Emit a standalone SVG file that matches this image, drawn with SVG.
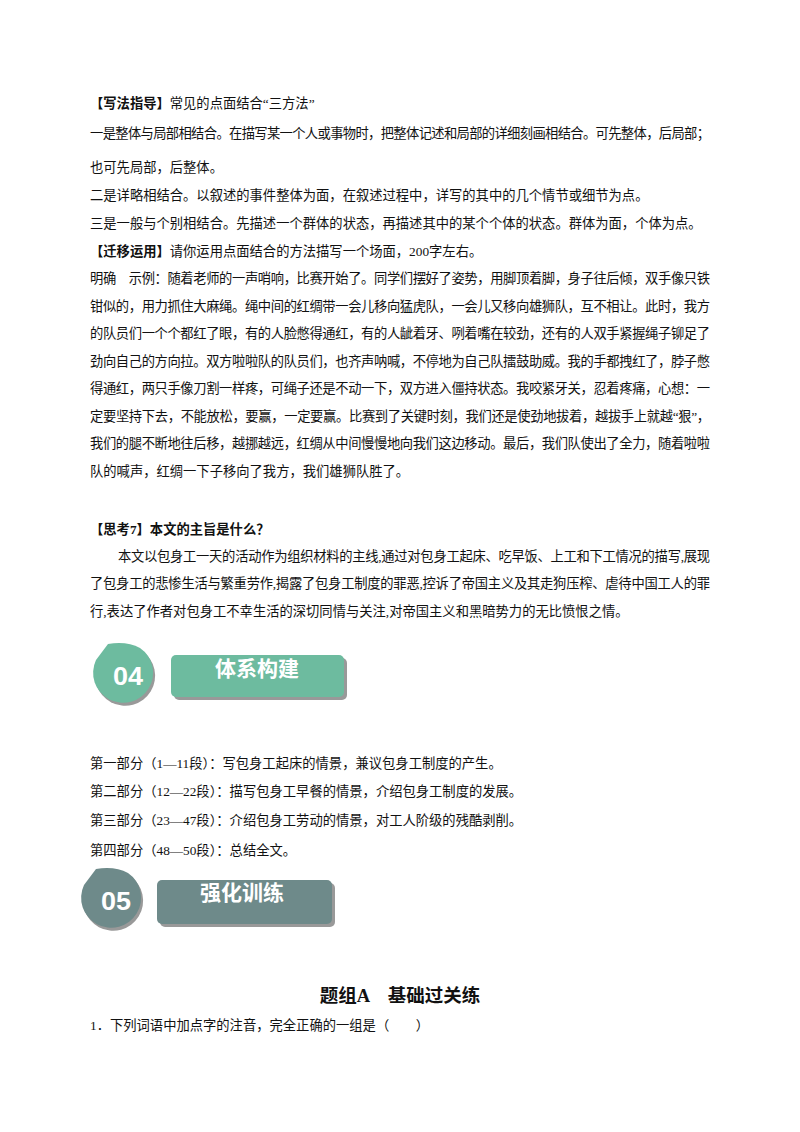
<svg xmlns="http://www.w3.org/2000/svg" width="800" height="1132" viewBox="0 0 800 1132">
<style>
text{font-family:"Liberation Serif","Noto Sans CJK SC",serif;font-size:13.3px;fill:#111}
.b{font-weight:bold}
.h{font-family:"Noto Sans CJK SC",sans-serif;font-weight:bold;font-size:21px;fill:#fff}
.n{font-family:"Liberation Sans","Noto Sans CJK SC",sans-serif;font-weight:bold;font-size:26px;fill:#fff}
</style>
<rect width="800" height="1132" fill="#fff"/>
<g id="text1">
<text x="90" y="108"><tspan class="b">【写法指导】</tspan>常见的点面结合“三方法”</text>
<text x="90" y="138" textLength="620" lengthAdjust="spacing">一是整体与局部相结合。在描写某一个人或事物时，把整体记述和局部的详细刻画相结合。可先整体，后局部；</text>
<text x="90" y="172">也可先局部，后整体。</text>
<text x="90" y="200">二是详略相结合。以叙述的事件整体为面，在叙述过程中，详写的其中的几个情节或细节为点。</text>
<text x="90" y="228">三是一般与个别相结合。先描述一个群体的状态，再描述其中的某个个体的状态。群体为面，个体为点。</text>
<text x="90" y="256"><tspan class="b">【迁移运用】</tspan>请你运用点面结合的方法描写一个场面，200字左右。</text>
<text x="90" y="283" textLength="620" lengthAdjust="spacing">明确　示例：随着老师的一声哨响，比赛开始了。同学们摆好了姿势，用脚顶着脚，身子往后倾，双手像只铁</text>
<text x="90" y="311" textLength="620" lengthAdjust="spacing">钳似的，用力抓住大麻绳。绳中间的红绸带一会儿移向猛虎队，一会儿又移向雄狮队，互不相让。此时，我方</text>
<text x="90" y="338" textLength="620" lengthAdjust="spacing">的队员们一个个都红了眼，有的人脸憋得通红，有的人龇着牙、咧着嘴在较劲，还有的人双手紧握绳子铆足了</text>
<text x="90" y="366" textLength="620" lengthAdjust="spacing">劲向自己的方向拉。双方啦啦队的队员们，也齐声呐喊，不停地为自己队擂鼓助威。我的手都拽红了，脖子憋</text>
<text x="90" y="393" textLength="620" lengthAdjust="spacing">得通红，两只手像刀割一样疼，可绳子还是不动一下，双方进入僵持状态。我咬紧牙关，忍着疼痛，心想：一</text>
<text x="90" y="421" textLength="620" lengthAdjust="spacing">定要坚持下去，不能放松，要赢，一定要赢。比赛到了关键时刻，我们还是使劲地拔着，越拔手上就越“狠”，</text>
<text x="90" y="448" textLength="620" lengthAdjust="spacing">我们的腿不断地往后移，越挪越远，红绸从中间慢慢地向我们这边移动。最后，我们队使出了全力，随着啦啦</text>
<text x="90" y="476">队的喊声，红绸一下子移向了我方，我们雄狮队胜了。</text>
<text x="90" y="534" class="b">【思考7】本文的主旨是什么？</text>
<text x="118" y="561" textLength="592" lengthAdjust="spacing">本文以包身工一天的活动作为组织材料的主线,通过对包身工起床、吃早饭、上工和下工情况的描写,展现</text>
<text x="90" y="588" textLength="620" lengthAdjust="spacing">了包身工的悲惨生活与繁重劳作,揭露了包身工制度的罪恶,控诉了帝国主义及其走狗压榨、虐待中国工人的罪</text>
<text x="90" y="616">行,表达了作者对包身工不幸生活的深切同情与关注,对帝国主义和黑暗势力的无比愤恨之情。</text>
</g>
<g id="badge04">
<path d="M96 660 L108 644 Q127 641 140 648 A30 30 0 1 1 96 660 Z" fill="#999" transform="translate(2,3)"/>
<path d="M96 660 L108 644 Q127 641 140 648 A30 30 0 1 1 96 660 Z" fill="#6dbb9f"/>
<text x="128" y="685" class="n" text-anchor="middle" textLength="30" lengthAdjust="spacingAndGlyphs">04</text>
<rect x="174" y="658" width="173" height="42" rx="5" fill="#999"/>
<rect x="171" y="655" width="173" height="42" rx="5" fill="#6dbb9f"/>
<text x="257" y="676" class="h" text-anchor="middle">体系构建</text>
</g>
<g id="text2">
<text x="90" y="768">第一部分（1—11段）：写包身工起床的情景，兼议包身工制度的产生。</text>
<text x="90" y="796">第二部分（12—22段）：描写包身工早餐的情景，介绍包身工制度的发展。</text>
<text x="90" y="825">第三部分（23—47段）：介绍包身工劳动的情景，对工人阶级的残酷剥削。</text>
<text x="90" y="855">第四部分（48—50段）：总结全文。</text>
</g>
<g id="badge05">
<path d="M84 885 L96 869 Q115 866 128 873 A30 30 0 1 1 84 885 Z" fill="#999" transform="translate(2,3)"/>
<path d="M84 885 L96 869 Q115 866 128 873 A30 30 0 1 1 84 885 Z" fill="#6e8a8a"/>
<text x="116" y="910" class="n" text-anchor="middle" textLength="30" lengthAdjust="spacingAndGlyphs">05</text>
<rect x="160" y="883" width="175" height="44" rx="5" fill="#999"/>
<rect x="157" y="880" width="175" height="44" rx="5" fill="#6e8a8a"/>
<text x="242" y="900" class="h" text-anchor="middle">强化训练</text>
</g>
<g id="text3">
<text x="400" y="1002" text-anchor="middle" class="b" style="font-size:18.5px">题组A　基础过关练</text>
<text x="90" y="1030">1．下列词语中加点字的注音，完全正确的一组是（　　）</text>
</g>
</svg>
